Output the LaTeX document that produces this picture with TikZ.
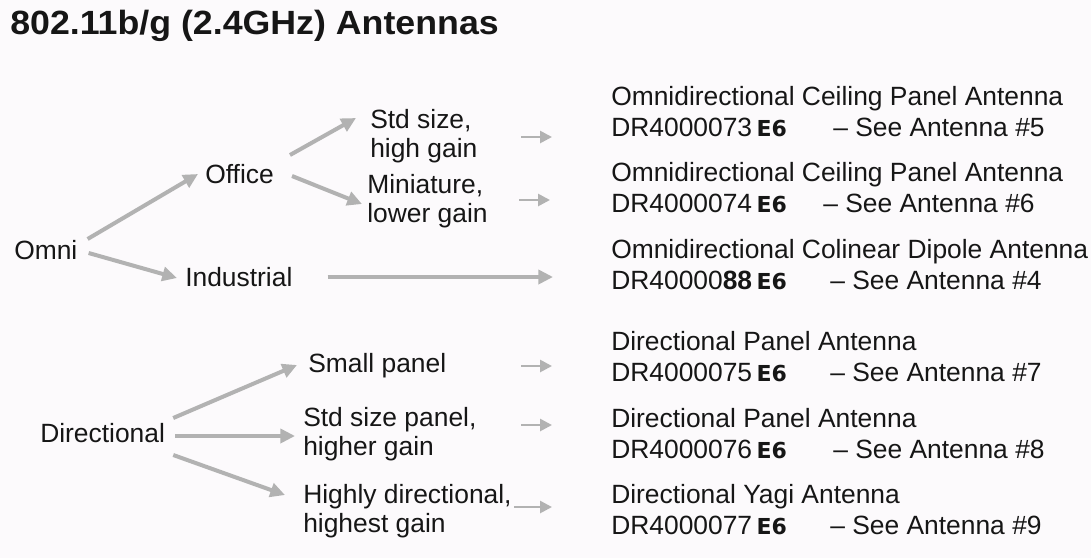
\documentclass[tikz,border=0pt]{standalone}
\usepackage{fontspec}
\setmainfont{Liberation Sans}
\newfontfamily\efont{DejaVu Sans}
\usetikzlibrary{arrows.meta,calc}
\definecolor{arrowgray}{RGB}{178,178,178}
\definecolor{bg}{RGB}{252,250,252}
\definecolor{ink}{RGB}{22,22,22}
\newcommand\Esix{{\efont\bfseries\fontsize{16.5}{16.5}\selectfont E6}}
\tikzset{
  lbl/.style={anchor=west,inner sep=0pt,align=left,text=ink,
    font=\fontsize{19.8}{21.4}\selectfont},
  rlbl/.style={lbl,font=\fontsize{19.8}{23.25}\selectfont},
  bigarrow/.style={draw=arrowgray,line width=3pt,-{Triangle[length=11pt,width=10.5pt]}},
  smallarrow/.style={draw=arrowgray,line width=2pt,-{Triangle[length=9pt,width=9pt]}},
}
\begin{document}
\begin{tikzpicture}[x=0.75pt,y=-0.75pt]
\fill[bg] (0,0) rectangle (1091,558);
\useasboundingbox (0,0) rectangle (1091,558);

\node[anchor=base west,inner sep=0pt,text=ink,font=\bfseries\fontsize{26.8}{30}\selectfont] (title) at (10,34) {\scalebox{1}[0.94]{802.11b/g (2.4GHz) Antennas}};

% left tree
\node[lbl] (omni) at (14,250) {Omni};
\node[lbl] (office) at (205,174) {Office};
\node[lbl] (industrial) at (185,277) {Industrial};
\node[lbl] (std) at (370,136) {Std size,\\high gain};
\node[lbl] (mini) at (367,201) {Miniature,\\lower gain};

\node[lbl] (dir) at (40,433) {Directional};
\node[lbl] (small) at (308,366) {Small panel};
\node[lbl] (stdp) at (303,434) {Std size panel,\\higher gain};
\node[lbl] (high) at (303,511) {Highly directional,\\highest gain};

% right column
\node[rlbl] (r1) at (611,111.5) {Omnidirectional Ceiling Panel Antenna\\\makebox[166.5pt][l]{DR4000073\,\Esix}-- See Antenna \#5};
\node[rlbl] (r2) at (611,188) {Omnidirectional Ceiling Panel Antenna\\\makebox[159pt][l]{DR4000074\,\Esix}-- See Antenna \#6};
\node[rlbl] (r3) at (611,265) {Omnidirectional Colinear Dipole Antenna\\\makebox[164.25pt][l]{DR40000{\bfseries 88}\,\Esix}-- See Antenna \#4};
\node[rlbl] (r4) at (611,357) {Directional Panel Antenna\\\makebox[164.25pt][l]{DR4000075\,\Esix}-- See Antenna \#7};
\node[rlbl] (r5) at (611,434) {Directional Panel Antenna\\\makebox[166.5pt][l]{DR4000076\,\Esix}-- See Antenna \#8};
\node[rlbl] (r6) at (611,510) {Directional Yagi Antenna\\\makebox[164.25pt][l]{DR4000077\,\Esix}-- See Antenna \#9};

% connectors, omni branch
\draw[bigarrow] ($(omni.east)+(10,-11)$) -- ($(office.west)+(-7,0)$);
\draw[bigarrow] ($(omni.east)+(11,3)$) -- ($(industrial.west)+(-8,1)$);
\draw[bigarrow] ($(office.east)+(16,-19)$) -- ($(std.west)+(-14,-18)$);
\draw[bigarrow] ($(office.east)+(18,2)$) -- ($(mini.west)+(-5,3)$);
\draw[bigarrow] ($(industrial.east)+(35,0)$) -- ($(industrial.east -| r3.west)+(-58,0)$);

\draw[smallarrow] ($(std.east -| r1.west)+(-90,1)$) -- ($(std.east -| r1.west)+(-59,1)$);
\draw[smallarrow] ($(mini.east -| r2.west)+(-92,-1)$) -- ($(mini.east -| r2.west)+(-61,-1)$);

% connectors, directional branch
\draw[bigarrow] ($(dir.east)+(8,-15)$) -- ($(small.west)+(-11,-1)$);
\draw[bigarrow] ($(dir.east)+(10,3)$) -- ($(stdp.west)+(-8,2)$);
\draw[bigarrow] ($(dir.east)+(8,22)$) -- ($(high.west)+(-18,-16)$);

\draw[smallarrow] ($(small.east -| r4.west)+(-90,0)$) -- ($(small.east -| r4.west)+(-59,0)$);
\draw[smallarrow] ($(stdp.east -| r5.west)+(-90,-9)$) -- ($(stdp.east -| r5.west)+(-59,-9)$);
\draw[smallarrow] ($(high.east -| r6.west)+(-97,-4)$) -- ($(high.east -| r6.west)+(-59,-4)$);
\end{tikzpicture}
\end{document}
